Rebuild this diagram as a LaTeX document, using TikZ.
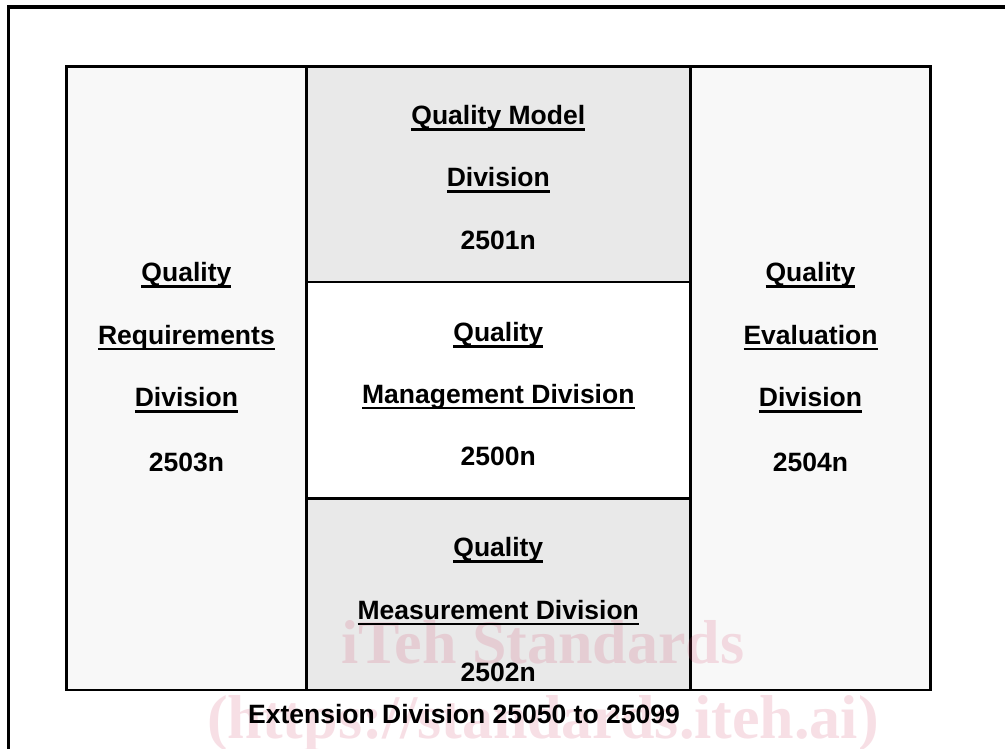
\documentclass[tikz,border=0pt]{standalone}
\usepackage{fontspec}
\setmainfont{Liberation Sans}
\newfontfamily\wmfont{Liberation Serif}
\definecolor{sidegray}{RGB}{248,248,248}
\definecolor{midgray}{RGB}{233,233,233}
\definecolor{wmpink}{RGB}{215,80,115}
\newcommand\ulx[1]{\setbox0\hbox{#1}\rlap{\rule[-6pt]{\wd0}{2.6pt}}\box0}
\tikzset{
  cell/.style={draw=black, line width=2.7pt, rectangle, anchor=north west, inner sep=0pt, outer sep=0pt},
  lbl/.style={anchor=base, inner sep=0pt, font=\fontsize{26.5}{30}\selectfont\bfseries},
  wm/.style={anchor=base, inner sep=0pt, text=wmpink, text opacity=0.18, font=\fontsize{62}{70}\wmfont\bfseries}
}
\begin{document}
\begin{tikzpicture}[x=1pt,y=-1pt]
\useasboundingbox (0,0) rectangle (1005,749);
\clip (0,0) rectangle (1005,749);
\fill[white] (0,0) rectangle (1005,749);
% outer frame
\coordinate (fa) at (8.3,760);
\coordinate (fb) at (8.3,7);
\coordinate (fc) at (1020,7);
\draw[line width=3.6pt] (fa) -- (fb) -- (fc);
% cells
\node[cell, fill=sidegray, minimum width=239.8pt, minimum height=623.3pt] (left) at (66.5,66.7) {};
\node[cell, fill=sidegray, minimum width=240.4pt, minimum height=623.3pt] (right) at (690.3,66.7) {};
\node[cell, fill=midgray, minimum width=384pt, minimum height=215.3pt] (mtop) at (306.3,66.7) {};
\node[cell, fill=white, minimum width=384pt, minimum height=216.3pt] (mmid) at (306.3,282) {};
\node[cell, fill=midgray, minimum width=384pt, minimum height=191.7pt] (mbot) at (306.3,498.3) {};
% watermark
\node[wm] (wm1) at (543,663.3) {iTeh Standards};
\node[wm] (wm2) at (543,738.3) {(https://standards.iteh.ai)};
% top middle
\node[lbl] (t1) at (498.3,125) {\ulx{Quality Model}};
\node[lbl] (t2) at (498.3,186.7) {\ulx{Division}};
\node[lbl] (t3) at (498.3,250) {2501n};
% middle
\node[lbl] (m1) at (498.3,341.7) {\ulx{Quality}};
\node[lbl] (m2) at (498.3,403.3) {\ulx{Management Division}};
\node[lbl] (m3) at (498.3,465) {2500n};
% bottom middle
\node[lbl] (b1) at (498.3,556.7) {\ulx{Quality}};
\node[lbl] (b2) at (498.3,619.3) {\ulx{Measurement Division}};
\node[lbl] (b3) at (498.3,681.7) {2502n};
% left
\node[lbl] (l1) at (186.4,281.7) {\ulx{Quality}};
\node[lbl] (l2) at (186.4,344.3) {\ulx{Requirements}};
\node[lbl] (l3) at (186.4,406.7) {\ulx{Division}};
\node[lbl] (l4) at (186.4,471) {2503n};
% right
\node[lbl] (r1) at (810.5,281.7) {\ulx{Quality}};
\node[lbl] (r2) at (810.5,344.3) {\ulx{Evaluation}};
\node[lbl] (r3) at (810.5,406.7) {\ulx{Division}};
\node[lbl] (r4) at (810.5,471) {2504n};
% extension
\node[lbl] (ext) at (464,723.3) {Extension Division 25050 to 25099};
\end{tikzpicture}
\end{document}
